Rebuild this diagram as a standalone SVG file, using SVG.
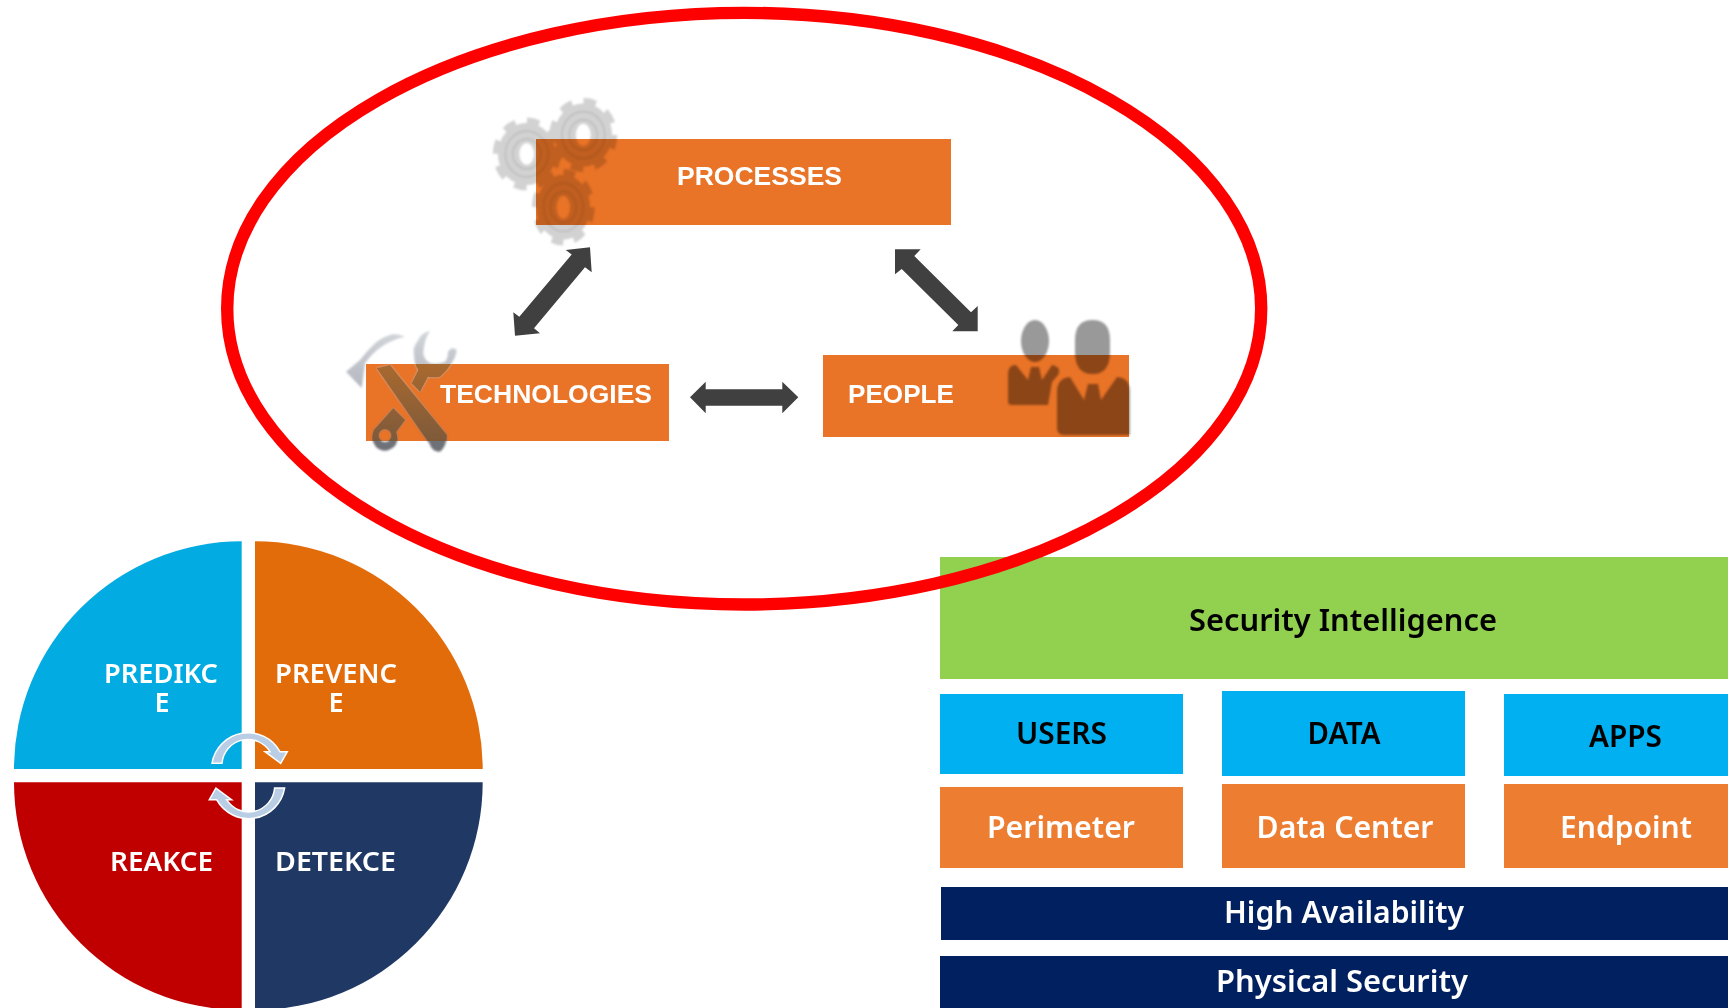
<svg xmlns="http://www.w3.org/2000/svg" xmlns:xlink="http://www.w3.org/1999/xlink" width="1728" height="1008" viewBox="0 0 1728 1008">
<style>
.box{fill:#E97326}
.tri{font-family:"Liberation Sans",Arial,sans-serif;font-weight:700;font-size:26px;fill:#fff}
.q{font-family:"Noto Sans",sans-serif;font-weight:600;font-size:27px;fill:#fff}
.l{font-family:"Noto Sans",sans-serif;font-weight:600;font-size:30px}
.k{fill:#000}.w{fill:#fff}
.b{fill:#00B0F0}.o{fill:#ED7D31}.n{fill:#002060}
.arrow{fill:#404040}
.cyc{fill:#B9CDE5;stroke:#fff;stroke-width:1.5}
.mul{mix-blend-mode:multiply}
.gr{fill:#D2D2D2;fill-rule:evenodd}
.gt{fill:none;stroke:#D2D2D2;stroke-width:7;stroke-dasharray:13.5 12.42}
.gd{fill:none;stroke:#BCBCBC;stroke-width:1.5}
</style>
<defs>
<filter id="soft" x="-10%" y="-10%" width="120%" height="120%"><feGaussianBlur stdDeviation="0.9"/></filter>
<linearGradient id="tool" gradientUnits="userSpaceOnUse" x1="0" y1="335" x2="0" y2="452"><stop offset="0" stop-color="#D0D3D8"/><stop offset="0.45" stop-color="#B4B8C0"/><stop offset="0.9" stop-color="#6E7278"/></linearGradient>
<linearGradient id="toolin" gradientUnits="userSpaceOnUse" x1="0" y1="364" x2="0" y2="441"><stop offset="0" stop-color="#A9692F"/><stop offset="1" stop-color="#7E5A3A"/></linearGradient>
<clipPath id="techclip"><rect x="366" y="364" width="303" height="77"/></clipPath>
<g id="gear"><path class="gr" d="M-31 0A31 31 0 1 1 31 0A31 31 0 1 1 -31 0ZM-8 0A8 11 0 1 0 8 0A8 11 0 1 0 -8 0Z"/><circle class="gt" r="33"/><circle class="gd" r="15"/><circle class="gd" r="23"/></g>
<g id="tools">
<path d="M376.7 368.3L390 365L446.7 435Q447 446 440 451.7Q432 452 429.3 443.3Z"/>
<path d="M346 371.7L361.7 388L365 363.3Q380 342 405 336.7Q395 333 390 335Q380 338 373.3 345Q366 352 360 360Z"/>
<path d="M430 330.7Q420 334 418.3 340Q412 348 414 355Q414 364 418.3 370L411.7 383.3L420 391.7L428 376.7Q434 378 440 376.7Q447 371 451.7 363Q456 357 456.7 350Q452 346 448 351.7Q448 358 445 361.7Q437 365 430 363Q424 360 423.3 353Q424 340 430 330.7Z"/>
<path fill-rule="evenodd" d="M393.3 408.3L405 420L396 432Q399 440 395 446Q385 455 376 447Q370 440 374 430ZM385 429A6.5 6.5 0 1 0 385 442A6.5 6.5 0 1 0 385 429Z"/>
</g>
</defs>

<g id="node-predikce">
<path d="M241.7 769H14A227.7 227.7 0 0 1 241.7 541.3Z" fill="#02ABE1"/>
<text class="q" x="104" y="683" textLength="114" lengthAdjust="spacingAndGlyphs">PREDIKC</text>
<text class="q" x="162" y="712" text-anchor="middle">E</text>
</g>
<g id="node-prevence">
<path d="M255 769H482.7A227.7 227.7 0 0 0 255 541.3Z" fill="#E36C0A"/>
<text class="q" x="275" y="683" textLength="122" lengthAdjust="spacingAndGlyphs">PREVENC</text>
<text class="q" x="336" y="712" text-anchor="middle">E</text>
</g>
<g id="node-reakce">
<path d="M241.7 782.3H14A227.7 227.7 0 0 0 241.7 1010Z" fill="#C00000"/>
<text class="q" x="110" y="871" textLength="103" lengthAdjust="spacingAndGlyphs">REAKCE</text>
</g>
<g id="node-detekce">
<path d="M255 782.3H482.7A227.7 227.7 0 0 1 255 1010Z" fill="#203864"/>
<text class="q" x="275" y="871" textLength="121" lengthAdjust="spacingAndGlyphs">DETEKCE</text>
</g>
<g id="cycle-arrows">
<path class="cyc" d="M212 763.3A36.5 36.5 0 0 1 280 751.7H287.3L280.7 763.3L265 751.7H270A26 26 0 0 0 222 763.3Z"/>
<path class="cyc" transform="rotate(180 248.3 775.7)" d="M212 763.3A36.5 36.5 0 0 1 280 751.7H287.3L280.7 763.3L265 751.7H270A26 26 0 0 0 222 763.3Z"/>
</g>

<g id="node-security-intelligence">
<rect x="940" y="557" width="788" height="122" fill="#92D050"/>
<text class="l k" x="1189" y="630.5" textLength="308" lengthAdjust="spacingAndGlyphs">Security Intelligence</text>
</g>
<g id="node-users"><rect class="b" x="940" y="694" width="243" height="80"/><text class="l k" x="1016" y="744" textLength="91" lengthAdjust="spacingAndGlyphs">USERS</text></g>
<g id="node-data"><rect class="b" x="1222" y="691" width="243" height="85"/><text class="l k" x="1307.5" y="744" textLength="73" lengthAdjust="spacingAndGlyphs">DATA</text></g>
<g id="node-apps"><rect class="b" x="1504" y="694" width="224" height="82"/><text class="l k" x="1589" y="747" textLength="73" lengthAdjust="spacingAndGlyphs">APPS</text></g>
<g id="node-perimeter"><rect class="o" x="940" y="787" width="243" height="81"/><text class="l w" x="987" y="838" textLength="148" lengthAdjust="spacingAndGlyphs">Perimeter</text></g>
<g id="node-data-center"><rect class="o" x="1222" y="784" width="243" height="84"/><text class="l w" x="1256.5" y="838" textLength="177" lengthAdjust="spacingAndGlyphs">Data Center</text></g>
<g id="node-endpoint"><rect class="o" x="1504" y="784" width="224" height="84"/><text class="l w" x="1560" y="838" textLength="132" lengthAdjust="spacingAndGlyphs">Endpoint</text></g>
<g id="node-high-availability"><rect class="n" x="941" y="887" width="787" height="53"/><text class="l w" x="1224" y="923" textLength="240" lengthAdjust="spacingAndGlyphs">High Availability</text></g>
<g id="node-physical-security"><rect class="n" x="940" y="956" width="788" height="52"/><text class="l w" x="1216" y="992" textLength="252" lengthAdjust="spacingAndGlyphs">Physical Security</text></g>

<ellipse id="red-ellipse" cx="744.2" cy="308.7" rx="517" ry="295.8" fill="none" stroke="#FF0000" stroke-width="12.4"/>

<g id="node-processes">
<rect class="box" x="536" y="139" width="415" height="86"/>
<g class="mul" filter="url(#soft)">
<use xlink:href="#gear" href="#gear" transform="translate(526.7 154) scale(.93 1)"/>
<use xlink:href="#gear" href="#gear" transform="translate(583.3 135) scale(.93 1.02)"/>
<use xlink:href="#gear" href="#gear" transform="translate(563.3 207.3) scale(.86 1.05)"/>
</g>
<text class="tri" x="677" y="185" textLength="165" lengthAdjust="spacingAndGlyphs">PROCESSES</text>
</g>
<g id="node-technologies">
<rect class="box" x="366" y="364" width="303" height="77"/>
<g filter="url(#soft)">
<use xlink:href="#tools" href="#tools" fill="url(#tool)"/>
</g>
<g clip-path="url(#techclip)"><use xlink:href="#tools" href="#tools" fill="url(#toolin)"/></g>
<text class="tri" x="440" y="403" textLength="212" lengthAdjust="spacingAndGlyphs">TECHNOLOGIES</text>
</g>
<g id="node-people">
<rect class="box" x="823" y="355" width="306" height="82"/>
<g class="mul" filter="url(#soft)" fill="#999">
<ellipse cx="1035" cy="341" rx="14" ry="21"/>
<path d="M1008 402V374Q1008 365 1016 365L1028 380L1031 367H1039L1042 380L1052 365Q1062 367 1058 375L1052 382L1048 405H1012Q1008 405 1008 402Z"/>
</g>
<g class="mul" filter="url(#soft)" fill="#999">
<path d="M1075 340Q1075 320 1092.5 320Q1110 320 1110 340V352Q1110 374 1092.5 374Q1075 374 1075 352Z"/>
<path d="M1057 428V392Q1057 378 1070 377L1084 400L1088 384H1098L1101 400L1117 377Q1130 378 1130 392V435H1064Q1057 435 1057 428Z"/>
</g>
<text class="tri" x="848" y="403" textLength="106" lengthAdjust="spacingAndGlyphs">PEOPLE</text>
</g>

<g id="connectors">
<polygon class="arrow" points="590,247.3 565.7,250 571.7,254.5 519.3,316.7 513.3,312.3 515,335.7 540,333.3 534,328.3 585,267.3 591.7,272.3"/>
<polygon class="arrow" points="690,397.3 705.7,381.7 705.7,389.3 782.3,389.3 782.3,381.7 798.3,397.3 782.3,413.3 782.3,405.7 705.7,405.7 705.7,413.3"/>
<polygon class="arrow" points="895,249.3 920.7,249.3 914.3,256 971,312.3 977.7,306 977.7,331.3 952.3,331.3 958.3,325 901.7,269 895,274.3"/>
</g>
</svg>
